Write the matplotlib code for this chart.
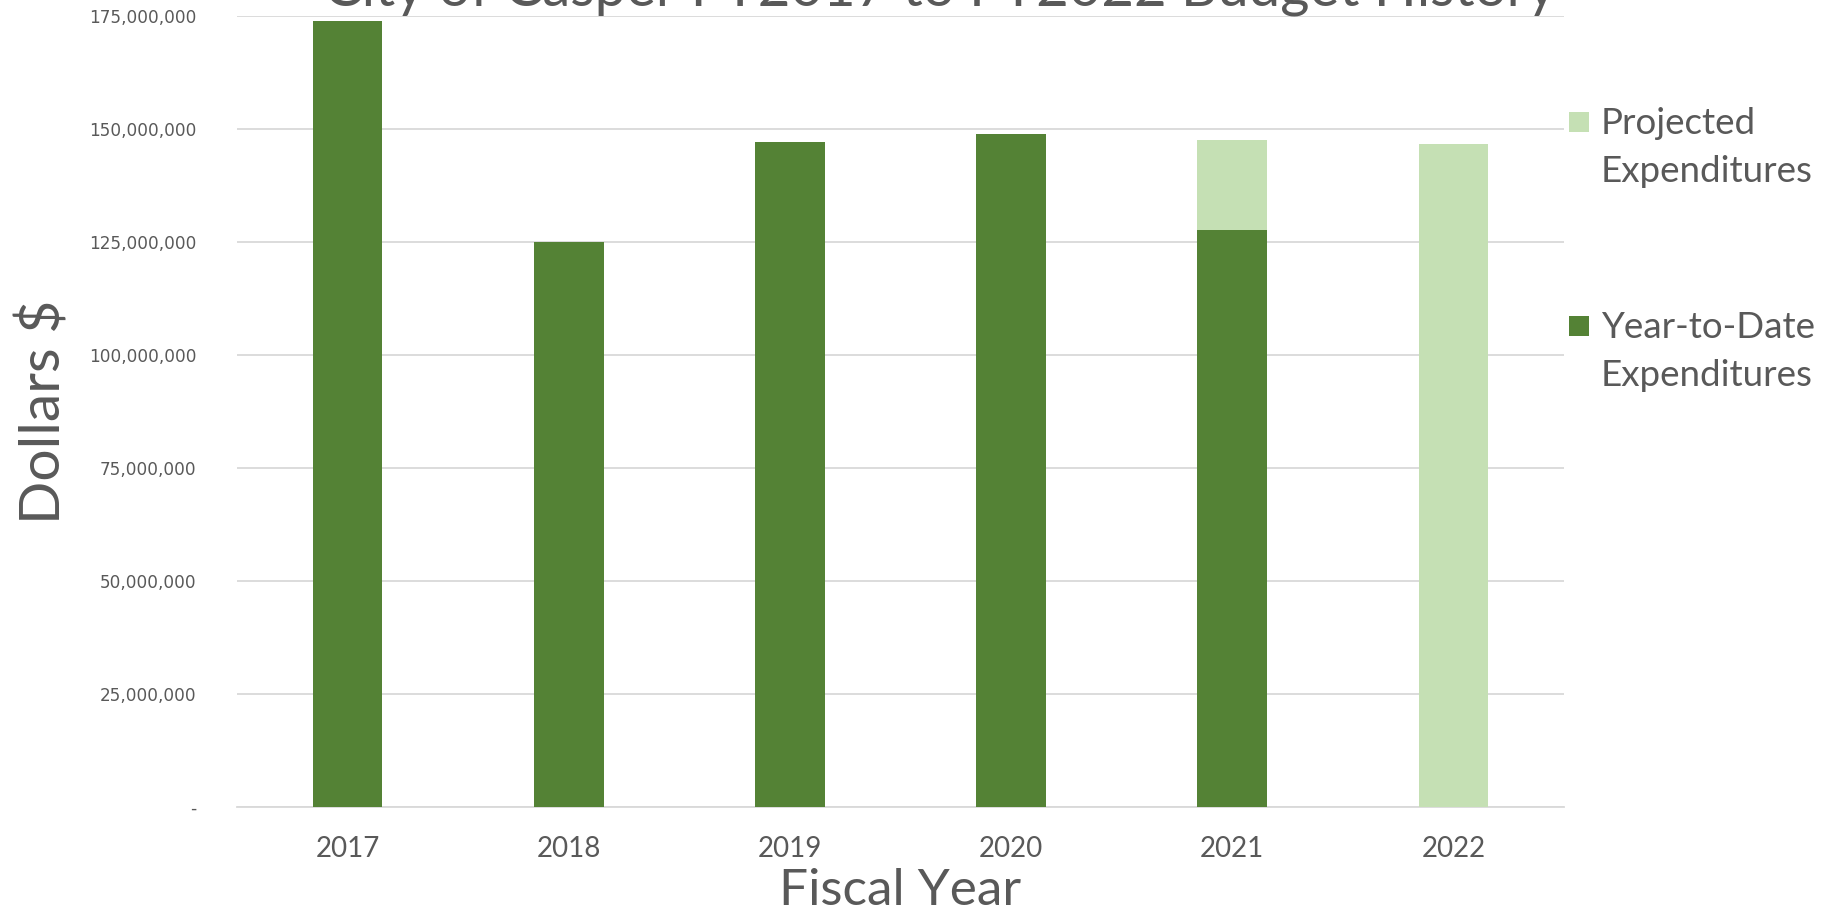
import matplotlib
matplotlib.use("Agg")
import matplotlib.pyplot as plt
from matplotlib.patches import Rectangle
from matplotlib.ticker import FuncFormatter

years = ["2017", "2018", "2019", "2020", "2021", "2022"]
ytd = [174.0e6, 125.0e6, 147.3e6, 148.9e6, 127.6e6, 0.0]
projected = [0.0, 0.0, 0.0, 0.0, 20.0e6, 146.8e6]
series_names = ["Projected\nExpenditures", "Year-to-Date\nExpenditures"]
title = "City of Casper FY2017 to FY2022 Budget History"

DARK = "#548235"
LIGHT = "#c5e0b4"
TXT = "#595959"
GRID = "#d9d9d9"
FONT = "Lato"

fig = plt.figure(figsize=(18.33, 9.14), dpi=100)
ax = fig.add_axes([0.1293, 0.1175, 0.7240, 0.8645])

x = list(range(len(years)))
w = 0.315
ax.bar(x, ytd, width=w, color=DARK, zorder=3)
ax.bar(x, projected, width=w, bottom=ytd, color=LIGHT, zorder=3)

ax.set_xlim(-0.5, len(years) - 0.5)
ax.set_ylim(0, 175e6)
ax.set_yticks([i * 25e6 for i in range(8)])
ax.yaxis.set_major_formatter(FuncFormatter(lambda v, p: "-" if v == 0 else f"{v:,.0f}"))
ax.set_xticks(x)
ax.set_xticklabels(years, fontfamily=FONT, fontsize=20, color=TXT)
for lab in ax.get_yticklabels():
    lab.set_fontfamily("DejaVu Sans")
    lab.set_fontsize(12.2)
    lab.set_color(TXT)
ax.tick_params(axis="y", length=0, pad=29)
ax.tick_params(axis="x", length=0, pad=21)
ax.grid(axis="y", color=GRID, linewidth=1.3, zorder=0)
for s in ["top", "right", "left"]:
    ax.spines[s].set_visible(False)
ax.spines["bottom"].set_color(GRID)
ax.spines["bottom"].set_linewidth(1.3)

ax.set_xlabel("Fiscal Year", fontfamily=FONT, fontsize=37, color=TXT, va="center")
ax.xaxis.set_label_coords(0.5, -0.1068)
ax.set_ylabel("Dollars $", fontfamily=FONT, fontsize=41, color=TXT, va="center")
ax.yaxis.set_label_coords(-0.1455, 0.5)

fig.text(0.513, 1 - 5 / 914, title, fontfamily=FONT, fontsize=40.5, color=TXT,
         ha="center", va="baseline")

# legend (square aligned with first text line)
H = 914.0
Wd = 1833.0
entries = [(LIGHT, series_names[0], 122), (DARK, series_names[1], 326)]
for col, name, yc in entries:
    fig.patches.append(Rectangle((1569 / Wd, 1 - (yc + 10) / H), 20 / Wd, 20 / H,
                                 transform=fig.transFigure, facecolor=col, edgecolor="none"))
    fig.text(1601 / Wd, 1 - (yc - 24 + 9) / H, name, fontfamily=FONT, fontsize=26.5,
             color=TXT, ha="left", va="top", linespacing=1.55)

fig.savefig("out.png", dpi=100)
